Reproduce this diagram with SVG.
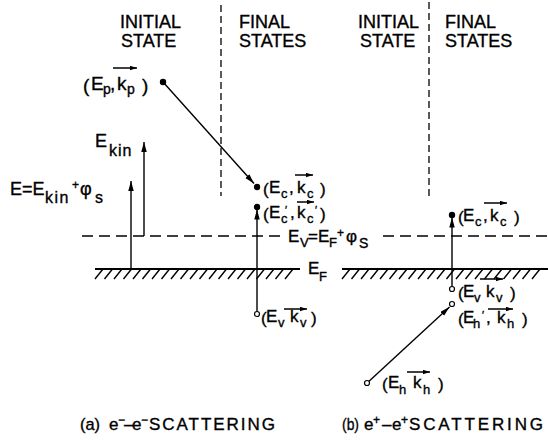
<svg xmlns="http://www.w3.org/2000/svg" width="548" height="442" viewBox="0 0 548 442">
<style>
text{font-family:"Liberation Sans","DejaVu Sans",Arial,sans-serif;fill:#000;stroke:#000;stroke-width:0.35}
.h{font-size:18px}
.l{font-size:17px}
.s{font-size:13px}
.p{font-size:11px}
.ln{stroke:#000;stroke-width:1.4;fill:none}
.ef{stroke:#000;stroke-width:1.9;fill:none}
.vd{stroke:#000;stroke-width:1.3;fill:none;stroke-dasharray:7 4}
.hd{stroke:#000;stroke-width:1.5;fill:none;stroke-dasharray:11 6}
.va{stroke:#000;stroke-width:1.5;fill:none}
.fd{fill:#000;stroke:none}
.od{fill:#fff;stroke:#000;stroke-width:1.2}
</style>
<defs>
<marker id="ah" markerUnits="userSpaceOnUse" markerWidth="11" markerHeight="6" refX="10" refY="2.75" orient="auto">
<path d="M0,0 L10,2.75 L0,5.5 z" fill="#000"/>
</marker>
<marker id="vh" markerUnits="userSpaceOnUse" markerWidth="8" markerHeight="5" refX="7" refY="2.25" orient="auto">
<path d="M0,0 L7,2.25 L0,4.5 z" fill="#000"/>
</marker>
</defs>

<g id="headings">
<text class="h" x="120" y="28">INITIAL</text>
<text class="h" x="121" y="47">STATE</text>
<text class="h" x="239" y="28">FINAL</text>
<text class="h" x="239" y="47">STATES</text>
<text class="h" x="358" y="28">INITIAL</text>
<text class="h" x="360" y="47">STATE</text>
<text class="h" x="445" y="28">FINAL</text>
<text class="h" x="445" y="47">STATES</text>
</g>

<g id="levels">
<path class="vd" d="M221 5V196"/>
<path class="vd" d="M429 2V196"/>
<path class="hd" d="M82 236H284"/>
<path class="hd" d="M383 236H548"/>
<path class="ef" d="M95 269H300M342 269H548"/>
<path class="ln" stroke-width="1.1" d="M103 269l-8 10M112.5 269l-8 10M122 269l-8 10M131.5 269l-8 10M141 269l-8 10M150.5 269l-8 10M160 269l-8 10M169.5 269l-8 10M179 269l-8 10M188.5 269l-8 10M198 269l-8 10M207.5 269l-8 10M217 269l-8 10M226.5 269l-8 10M236 269l-8 10M245.5 269l-8 10M255 269l-8 10M264.5 269l-8 10M274 269l-8 10M283.5 269l-8 10M293 269l-8 10M350 269l-8 10M359.5 269l-8 10M369 269l-8 10M378.5 269l-8 10M388 269l-8 10M397.5 269l-8 10M407 269l-8 10M416.5 269l-8 10M426 269l-8 10M435.5 269l-8 10M445 269l-8 10M454.5 269l-8 10M464 269l-8 10M473.5 269l-8 10M483 269l-8 10M492.5 269l-8 10M502 269l-8 10M511.5 269l-8 10M521 269l-8 10M530.5 269l-8 10M540 269l-8 10"/>
<text><tspan class="l" x="288" y="242">E</tspan><tspan class="s" x="300" y="247">V</tspan><tspan class="l" x="308" y="242">=</tspan><tspan class="l" x="318" y="242">E</tspan><tspan class="s" x="329" y="247">F</tspan><tspan font-size="12" x="337" y="237">+</tspan><tspan class="l" x="346" y="242">φ</tspan><tspan font-size="14" x="359" y="248">S</tspan></text>
<text><tspan class="l" x="308" y="274">E</tspan><tspan class="s" x="319" y="281">F</tspan></text>
</g>

<g id="energy-arrows">
<path class="ln" d="M144 236V142" marker-end="url(#ah)"/>
<path class="ln" d="M131 269V181" marker-end="url(#ah)"/>
<text><tspan class="h" x="95" y="147">E</tspan><tspan font-size="16" letter-spacing="1" x="109" y="156">kin</tspan></text>
<text><tspan class="h" x="10" y="195">E=E</tspan><tspan font-size="16" letter-spacing="1.5" x="45" y="203">kin</tspan><tspan font-size="12" x="72" y="189">+</tspan><tspan class="h" x="80" y="195">φ</tspan><tspan font-size="16" x="95" y="203">s</tspan></text>
</g>

<g id="connectors">
<path class="ln" d="M163 82L254 183.5" marker-end="url(#ah)"/>
<path class="ln" d="M257 311.5V209.5" marker-end="url(#ah)"/>
<path class="ln" d="M452 286.5V217.5" marker-end="url(#ah)"/>
<path class="ln" d="M369 381.3L449.5 307" marker-end="url(#ah)"/>
</g>

<g id="state-Ep">
<circle class="fd" cx="163" cy="82" r="3.2"/>
<text><tspan font-size="19" x="83" y="92">(</tspan><tspan font-size="19" x="91" y="90">E</tspan><tspan font-size="14" x="103" y="94">p</tspan><tspan font-size="19" x="110" y="90">,</tspan><tspan font-size="19" x="117" y="90">k</tspan><tspan font-size="14" x="127" y="94">p</tspan><tspan font-size="19" x="142" y="92">)</tspan></text>
<path class="va" d="M113 68H137" marker-end="url(#vh)"/>
</g>

<g id="state-Ec-a">
<circle class="fd" cx="257" cy="187" r="3.2"/>
<text><tspan class="l" x="263" y="195">(</tspan><tspan class="l" x="269" y="193">E</tspan><tspan class="s" x="281" y="198">c</tspan><tspan class="l" x="289" y="193">,</tspan><tspan class="l" x="297" y="193">k</tspan><tspan class="s" x="307" y="198">c</tspan><tspan class="l" x="320" y="195">)</tspan></text>
<path class="va" d="M295 175H313" marker-end="url(#vh)"/>
</g>

<g id="state-Ec2-a">
<circle class="fd" cx="257" cy="207" r="3.2"/>
<text><tspan class="l" x="263" y="220">(</tspan><tspan class="l" x="269" y="218">E</tspan><tspan class="s" x="281" y="223">c</tspan><tspan class="p" x="285" y="214">′</tspan><tspan class="l" x="290" y="218">,</tspan><tspan class="l" x="297" y="218">k</tspan><tspan class="s" x="307" y="223">c</tspan><tspan class="p" x="315" y="214">′</tspan><tspan class="l" x="320" y="220">)</tspan></text>
<path class="va" d="M297 202H314" marker-end="url(#vh)"/>
</g>

<g id="state-Ev-a">
<circle class="od" cx="257" cy="314" r="2.5"/>
<text><tspan class="l" x="261" y="324">(</tspan><tspan class="l" x="266" y="322">E</tspan><tspan class="s" x="278" y="327">v</tspan><tspan class="l" x="290" y="322">k</tspan><tspan class="s" x="300" y="327">v</tspan><tspan class="l" x="311" y="324">)</tspan></text>
<path class="va" d="M284 309H307" marker-end="url(#vh)"/>
</g>

<g id="state-Ec-b">
<circle class="fd" cx="452" cy="215" r="3.2"/>
<text><tspan class="l" x="458" y="223">(</tspan><tspan class="l" x="463" y="221">E</tspan><tspan class="s" x="475" y="226">c</tspan><tspan class="l" x="483" y="221">,</tspan><tspan class="l" x="490" y="221">k</tspan><tspan class="s" x="500" y="226">c</tspan><tspan class="l" x="514" y="223">)</tspan></text>
<path class="va" d="M484 203H507" marker-end="url(#vh)"/>
</g>

<g id="state-Ev-b">
<circle class="od" cx="452" cy="289" r="2.5"/>
<text><tspan class="l" x="458" y="299">(</tspan><tspan class="l" x="463" y="297">E</tspan><tspan class="s" x="474" y="302">v</tspan><tspan class="l" x="486" y="297">k</tspan><tspan class="s" x="496" y="302">v</tspan><tspan class="l" x="510" y="299">)</tspan></text>
<path class="va" d="M480 279H503" marker-end="url(#vh)"/>
</g>

<g id="state-Eh2-b">
<circle class="od" cx="452" cy="304" r="2.5"/>
<text><tspan class="l" x="458" y="325">(</tspan><tspan class="l" x="463" y="323">E</tspan><tspan class="s" x="473" y="328">h</tspan><tspan class="p" x="482" y="319">′</tspan><tspan class="l" x="486" y="323">,</tspan><tspan class="l" x="497" y="323">k</tspan><tspan class="s" x="507" y="328">h</tspan><tspan class="l" x="522" y="325">)</tspan></text>
<path class="va" d="M488 309H513" marker-end="url(#vh)"/>
</g>

<g id="state-Eh-b">
<circle class="od" cx="367" cy="383" r="2.5"/>
<text><tspan class="l" x="382" y="390">(</tspan><tspan class="l" x="388" y="388">E</tspan><tspan class="s" x="399" y="394">h</tspan><tspan class="l" x="413" y="388">k</tspan><tspan class="s" x="423" y="394">h</tspan><tspan class="l" x="438" y="390">)</tspan></text>
<path class="va" d="M407 372H430" marker-end="url(#vh)"/>
</g>

<g id="captions">
<text font-size="17"><tspan x="80" y="430" textLength="20" lengthAdjust="spacingAndGlyphs">(a)</tspan><tspan x="109" y="430">e</tspan><tspan font-size="12" x="118" y="424">−</tspan><tspan x="124" y="430">–</tspan><tspan x="132" y="430">e</tspan><tspan font-size="12" x="141" y="424">−</tspan><tspan x="149" y="430" textLength="126" lengthAdjust="spacing">SCATTERING</tspan></text>
<text font-size="17"><tspan x="342" y="430" textLength="17" lengthAdjust="spacingAndGlyphs">(b)</tspan><tspan x="364" y="430">e</tspan><tspan font-size="12" x="373" y="424">+</tspan><tspan x="382" y="430">–</tspan><tspan x="392" y="430">e</tspan><tspan font-size="12" x="401" y="424">+</tspan><tspan x="409" y="430" textLength="134" lengthAdjust="spacing">SCATTERING</tspan></text>
</g>
</svg>
